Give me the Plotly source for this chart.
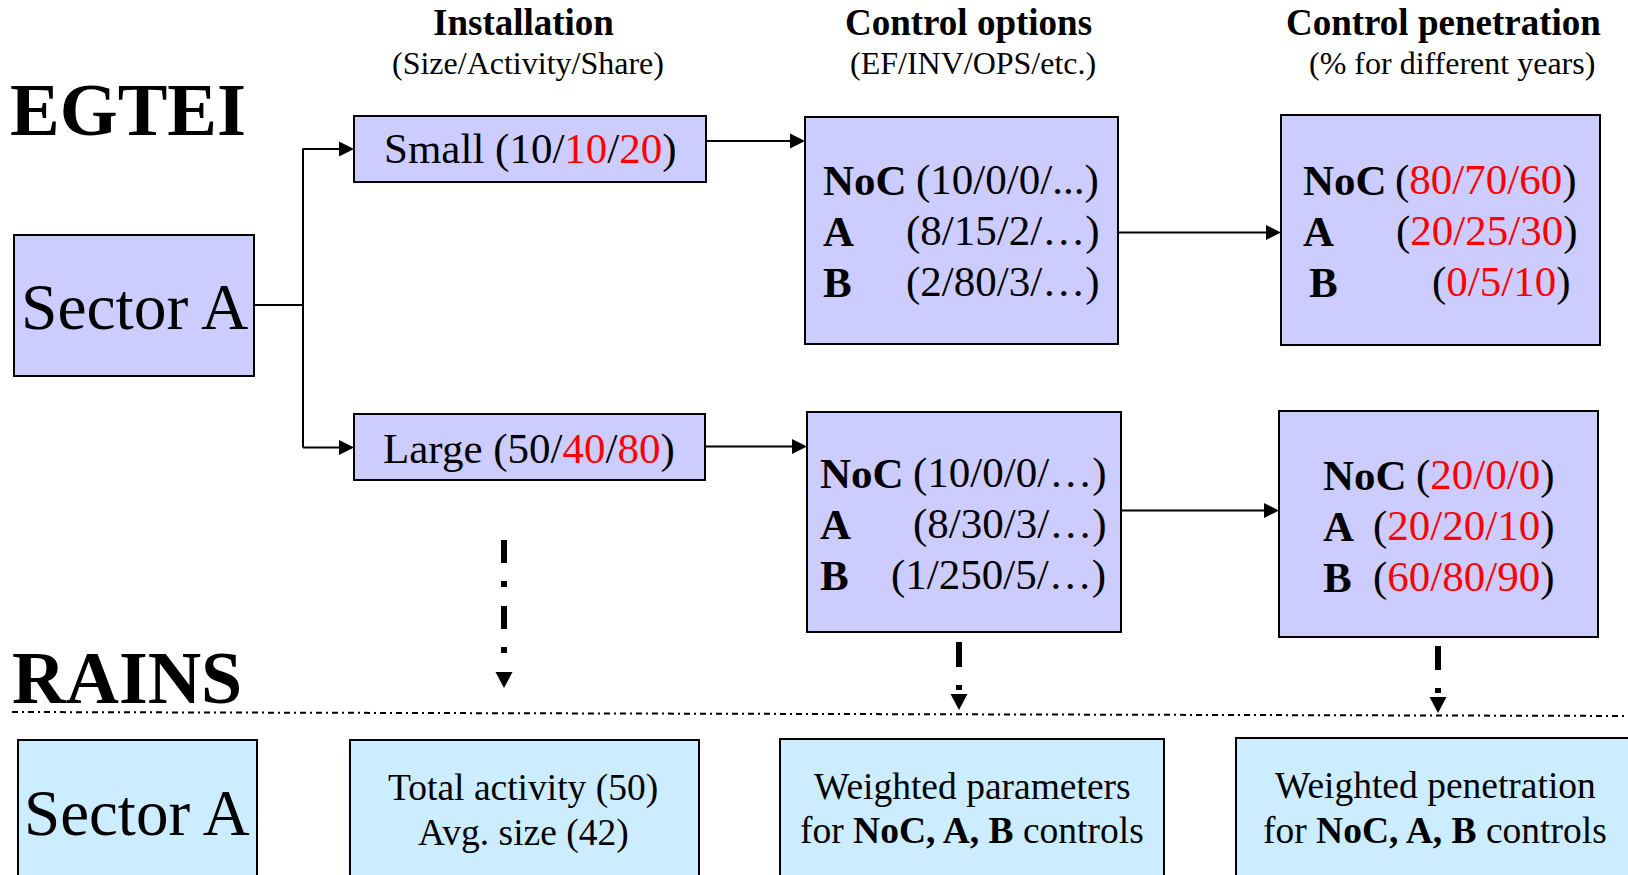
import plotly.graph_objects as go

# ---------------- data ----------------
column_titles = ["Installation", "Control options", "Control penetration"]
column_subtitles = ["(Size/Activity/Share)", "(EF/INV/OPS/etc.)", "(% for different years)"]
model_names = ["EGTEI", "RAINS"]
sector_name = "Sector A"
size_classes = ["Small", "Large"]
inst_size = [10, 50]
inst_activity = [10, 40]
inst_share = [20, 80]
control_names = ["NoC", "A", "B"]
# EF / INV / OPS parameters per size class and control
params_small = [[10, 0, 0], [8, 15, 2], [2, 80, 3]]
params_large = [[10, 0, 0], [8, 30, 3], [1, 250, 5]]
param_tails_small = ["...", "\u2026", "\u2026"]
param_tails_large = ["\u2026", "\u2026", "\u2026"]
# penetration (% for different years)
pen_small = [[80, 70, 60], [20, 25, 30], [0, 5, 10]]
pen_large = [[20, 0, 0], [20, 20, 10], [60, 80, 90]]
total_activity = 50
avg_size = 42
rains_texts = [["Total activity ({})", "Avg. size ({})"],
               ["Weighted parameters", "for <b>NoC, A, B</b> controls"],
               ["Weighted penetration", "for <b>NoC, A, B</b> controls"]]

# ---------------- styles ----------------
FONT = "Liberation Serif"
RED = "#FF0000"
PURPLE = "#CCCCFF"
LBLUE = "#CCECFF"
W, H = 1628, 875
PAD = 3       # annotation inner padding compensation

shapes = []
ann = []


def box(x0, y0, x1, y1, fill):
    shapes.append(dict(type="rect", x0=x0, y0=y0, x1=x1, y1=y1, xref="x", yref="y",
                       fillcolor=fill, line=dict(color="black", width=2), layer="below"))


def line(x0, y0, x1, y1, width=2, dash="solid"):
    shapes.append(dict(type="line", x0=x0, y0=y0, x1=x1, y1=y1, xref="x", yref="y",
                       line=dict(color="black", width=width, dash=dash)))


def head_right(x, y, L=15, h=7.5):
    shapes.append(dict(type="path", path=f"M{x},{y} L{x-L},{y-h} L{x-L},{y+h} Z",
                       xref="x", yref="y", fillcolor="black", line=dict(color="black", width=0)))


def head_down(x, y, L=16, h=8.5):
    shapes.append(dict(type="path", path=f"M{x},{y} L{x-h},{y-L} L{x+h},{y-L} Z",
                       xref="x", yref="y", fillcolor="black", line=dict(color="black", width=0)))


def text(x, y, s, size, xanchor="center", bold=False, color="black"):
    if bold:
        s = f"<b>{s}</b>"
    if xanchor == "left":
        x -= PAD
    elif xanchor == "right":
        x += PAD
    ann.append(dict(x=x, y=y, xref="x", yref="y", text=s, showarrow=False,
                    xanchor=xanchor, yanchor="middle",
                    font=dict(family=FONT, size=size, color=color)))


def red(v):
    return f"<span style='color:{RED}'>{v}</span>"


# ---------------- headers ----------------
title_x = [523, 968, 1443]
sub_x = [528, 973, 1452]
for i in range(3):
    text(title_x[i], 22.5, column_titles[i], 37, bold=True)
    text(sub_x[i], 63, column_subtitles[i], 32)

text(11, 110, model_names[0], 74.5, xanchor="left", bold=True)
text(13, 678, model_names[1], 74, xanchor="left", bold=True)

# ---------------- EGTEI part ----------------
box(14, 235, 254, 376, PURPLE)
text(134, 307, sector_name, 65.5)

inst_boxes = [(354, 116, 706, 182), (354, 414, 705, 480)]
inst_text = [(530, 149), (529, 449)]
for k in range(2):
    box(*inst_boxes[k], PURPLE)
    s = f"{size_classes[k]} ({inst_size[k]}/{red(inst_activity[k])}/{red(inst_share[k])})"
    text(inst_text[k][0], inst_text[k][1], s, 43)

# connectors from sector
line(254, 305, 303, 305)
line(303, 148.5, 303, 447.5)
line(303, 149, 341, 149)
head_right(354, 149)
line(303, 447.5, 341, 447.5)
head_right(354, 447.5)

# control option boxes
ctrl_boxes = [(805, 117, 1118, 344), (807, 412, 1121, 632)]
ctrl_label_x = [824, 821]
ctrl_val_x = [1098, 1105]
ctrl_rows_y = [[180, 231, 282], [473, 524, 575]]
ctrl_params = [params_small, params_large]
ctrl_tails = [param_tails_small, param_tails_large]
for k in range(2):
    box(*ctrl_boxes[k], PURPLE)
    for r in range(3):
        y = ctrl_rows_y[k][r]
        text(ctrl_label_x[k], y, control_names[r], 43, xanchor="left", bold=True)
        vals = "/".join(str(v) for v in ctrl_params[k][r])
        text(ctrl_val_x[k], y, f"({vals}/{ctrl_tails[k][r]})", 43, xanchor="right")

# penetration boxes
pen_boxes = [(1281, 115, 1600, 345), (1279, 411, 1598, 637)]
pen_label_x = [[1304, 1304, 1310], [1324, 1324, 1324]]
pen_val_x = [[1576, 1577, 1570], [1554, 1554, 1554]]
pen_rows_y = [[180, 231, 282], [475, 526, 577]]
pen_vals = [pen_small, pen_large]
for k in range(2):
    box(*pen_boxes[k], PURPLE)
    for r in range(3):
        y = pen_rows_y[k][r]
        text(pen_label_x[k][r], y, control_names[r], 43, xanchor="left", bold=True)
        vals = "/".join(str(v) for v in pen_vals[k][r])
        text(pen_val_x[k][r], y, f"({red(vals)})", 43, xanchor="right")

# horizontal arrows
line(706, 141, 791, 141)
head_right(805, 141)
line(1118, 232.5, 1267, 232.5)
head_right(1281, 232.5)
line(705, 446.5, 793, 446.5)
head_right(807, 446.5)
line(1121, 510.5, 1265, 510.5)
head_right(1279, 510.5)

# vertical dashed arrows
line(504, 540, 504, 654, width=6, dash="23px,18px,6px,19px")
head_down(504, 688)
line(959, 642, 959, 690, width=6, dash="25px,18px,5px,20px")
head_down(959, 710)
line(1438, 646, 1438, 693, width=6, dash="24px,18px,5px,20px")
head_down(1438, 713)

# separator
line(12, 712, 1640, 716, width=2, dash="6px,4px,2px,4px")

# ---------------- RAINS part ----------------
box(18, 740, 257, 900, LBLUE)
text(137, 813, sector_name, 65)

rb = [(350, 740, 699, 900), (780, 739, 1164, 900), (1236, 738, 1660, 900)]
rx = [523, 972, 1435]
ry = [[788, 833], [786.5, 830.5], [785.5, 830]]
for k in range(3):
    box(*rb[k], LBLUE)
    l1, l2 = rains_texts[k]
    if k == 0:
        l1 = l1.format(total_activity)
        l2 = l2.format(avg_size)
    text(rx[k], ry[k][0], l1, 37.5)
    text(rx[k], ry[k][1], l2, 37.5)

fig = go.Figure()
fig.update_layout(
    width=W, height=H, margin=dict(l=0, r=0, t=0, b=0),
    paper_bgcolor="white", plot_bgcolor="white",
    xaxis=dict(range=[0, W], visible=False, fixedrange=True),
    yaxis=dict(range=[H, 0], visible=False, fixedrange=True),
    shapes=shapes, annotations=ann, showlegend=False,
)
fig.write_html("out.html",
               config={"displayModeBar": False, "staticPlot": True},
               post_script="document.body.style.margin='0';document.body.style.overflow='hidden';")
